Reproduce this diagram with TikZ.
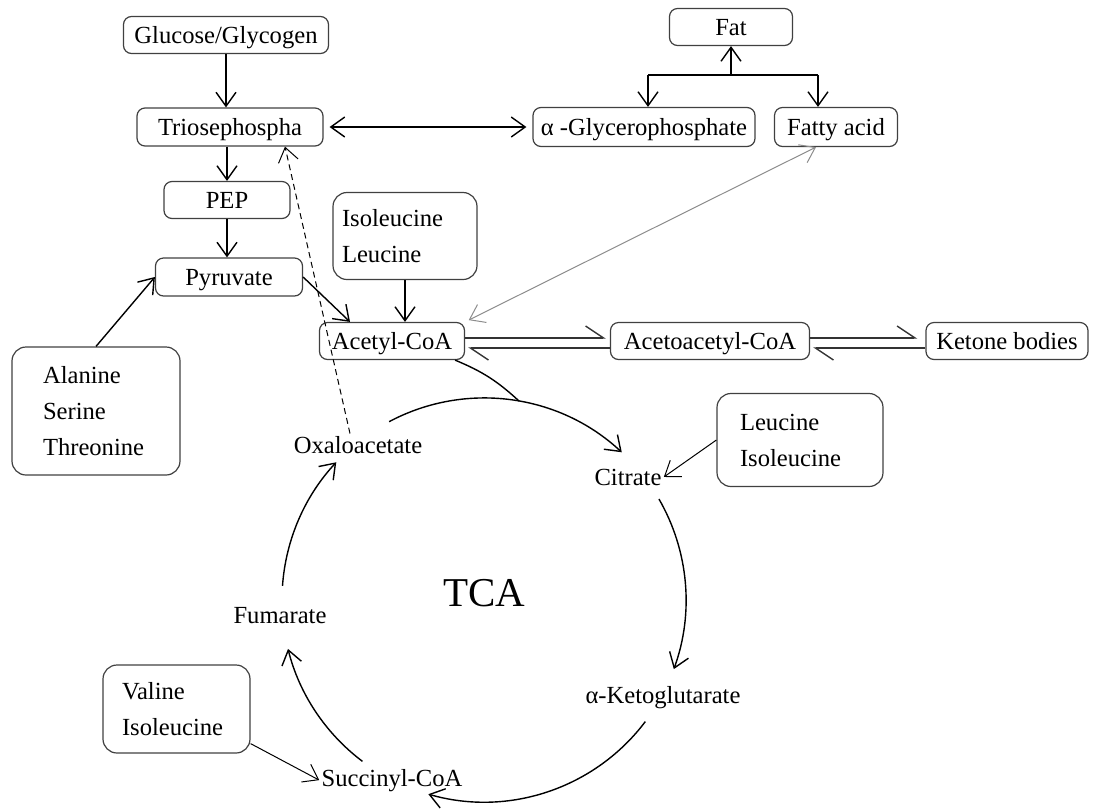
\documentclass[tikz,border=0pt]{standalone}
\usepackage{fontspec}
\setmainfont{Liberation Serif}
\usetikzlibrary{arrows.meta}

\begin{document}
\begin{tikzpicture}[x=0.5pt,y=-0.5pt]\tikzset{box/.style = {draw=black!75, line width=0.6pt, rounded corners=4pt, inner sep=0pt, font=\fontsize{12.3}{14}\selectfont, text height=10pt, text depth=2pt},
	listbox/.style = {draw=black!75, line width=0.6pt, rounded corners=7pt, align=left, font=\fontsize{12.3}{18}\selectfont},
	word/.style = {inner sep=1pt, anchor=base, font=\fontsize{12.3}{14}\selectfont},
	arr/.style = {-{Straight Barb[length=7pt,width=10pt]}, line width=0.7pt},
	twoway/.style = {{Straight Barb[length=7pt,width=10pt]}-{Straight Barb[length=7pt,width=10pt]}, line width=0.7pt},
	harp/.style = {-{Straight Barb[left,length=9pt,width=12pt]}, line width=0.7pt, draw=black!80}}

		\useasboundingbox (0,0) rectangle (1093,810);

		\node[box, minimum width=102.5pt, minimum height=18.5pt] (gluc) at (226,35) {Glucose/Glycogen};
		\node[box, minimum width=93pt, minimum height=19pt] (triose) at (230,127) {Triosephospha};
		\node[box, minimum width=63pt, minimum height=18.5pt] (pep) at (227,200) {PEP};
		\node[box, minimum width=73.5pt, minimum height=19pt] (pyr) at (229,277) {Pyruvate};
		\node[box, minimum width=72.5pt, minimum height=18.5pt] (acetyl) at (392,341) {Acetyl-CoA};
		\node[box, minimum width=99.5pt, minimum height=18.5pt] (acetoac) at (710,341) {Acetoacetyl-CoA};
		\node[box, minimum width=81pt, minimum height=18.5pt] (ketone) at (1007,341) {Ketone bodies};
		\node[box, minimum width=61.5pt, minimum height=18.5pt] (fat) at (731,27) {Fat};
		\node[box, minimum width=111pt, minimum height=19.5pt] (glyc) at (644,127) {α -Glycerophosphate};
		\node[box, minimum width=61.5pt, minimum height=19.5pt] (fatty) at (836,127) {Fatty acid};

		\node[listbox, text width=53pt, inner xsep=15.5pt, minimum height=64pt] (ala) at (96,411) {Alanine\\Serine\\Threonine};
		\node[listbox, text width=63pt, inner xsep=4.5pt, minimum height=43.5pt] (isoleu) at (405,236) {Isoleucine\\Leucine};
		\node[listbox, text width=60pt, inner xsep=11.5pt, minimum height=46.5pt] (leu) at (800,440) {Leucine\\Isoleucine};
		\node[listbox, text width=54.5pt, inner xsep=9.5pt, minimum height=44pt] (val) at (176.5,709) {Valine\\Isoleucine};

		\node[word] (oxa) at (358,453) {Oxaloacetate};
		\node[word] (cit) at (628,485) {Citrate};
		\node[word] (akg) at (663,703) {α-Ketoglutarate};
		\node[word] (succ) at (392,786) {Succinyl-CoA};
		\node[word] (fum) at (280,623) {Fumarate};
		\node[font=\fontsize{20.5}{24}\selectfont] (tca) at (484,593) {TCA};

		\coordinate (ctr) at (484,600);
		\coordinate (fork) at (731,75);
		\coordinate (forkL) at (648,75);
		\coordinate (forkR) at (818,75);
		\coordinate (join) at ([shift={(-80:202)}]ctr);

		\draw[arr] (gluc.south) -- (gluc.south |- triose.north);
		\draw[arr] (pep.north |- triose.south) -- (pep.north);
		\draw[arr] (pep.south) -- (pep.south |- pyr.north);
		\draw[arr] (ala.north) -- (pyr.west);
		\draw[arr] (pyr.east) -- ([xshift=-21pt]acetyl.north);
		\draw[arr] (isoleu.south) -- (isoleu.south |- acetyl.north);
		\draw[twoway, shorten <=3pt, shorten >=3pt] (triose) -- (glyc);
		\draw[twoway, draw=black!45, line width=0.5pt, shorten >=2pt] ([xshift=-10pt]fatty.south) -- (acetyl.north east);

		\draw[arr] (fork) -- (fat.south);
		\draw[line width=0.7pt] (forkL) -- (forkR);
		\draw[arr] (forkL) -- (forkL |- glyc.north);
		\draw[arr] (forkR) -- (forkR |- fatty.north);

		\draw[harp, shorten >=2pt] ([yshift=1.5pt]acetyl.east) -- ([yshift=1.5pt]acetoac.west);
		\draw[harp, shorten >=1.5pt] ([yshift=-3.5pt]acetoac.west) -- ([yshift=-3.5pt]acetyl.east);
		\draw[harp, shorten >=4pt] ([yshift=1.5pt]acetoac.east) -- ([yshift=1.5pt]ketone.west);
		\draw[harp, shorten >=1.5pt] ([yshift=-3.5pt]ketone.west) -- ([yshift=-3.5pt]acetoac.east);

		\draw[line width=0.7pt] ([xshift=-5pt]acetyl.south east) to[bend left=10] (join);
		\draw[arr] ([shift={(-118:202)}]ctr) arc[start angle=-118, end angle=-47, radius=202];
		\draw[arr] ([shift={(-30:202)}]ctr) arc[start angle=-30, end angle=20, radius=202];
		\draw[arr] ([shift={(37:202)}]ctr) arc[start angle=37, end angle=106, radius=202];
		\draw[arr] ([shift={(127:202)}]ctr) arc[start angle=127, end angle=166, radius=202];
		\draw[arr] ([shift={(184:202)}]ctr) arc[start angle=184, end angle=223, radius=202];

		\draw[arr, line width=0.5pt] (leu.west) -- (cit.east);
		\draw[arr, line width=0.5pt] ([yshift=5pt]val.south east) -- (succ.west);
		\draw[arr, line width=0.5pt, dash pattern=on 3pt off 2pt] ([xshift=-4pt]oxa.north) -- ([xshift=27.5pt]triose.south);
	\end{tikzpicture}
\end{document}
